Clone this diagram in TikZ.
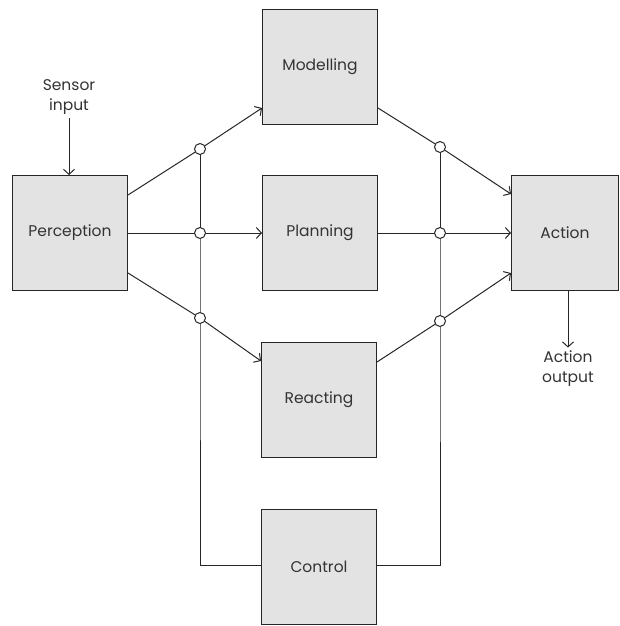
\documentclass[tikz,border=0pt]{standalone}
\usepackage{fontspec}
\setmainfont{Poppins}
\usetikzlibrary{arrows.meta, positioning}

\begin{document}
\begin{tikzpicture}[x=1pt, y=-1pt, font=\fontsize{15.5}{20}\selectfont, text=black!80,
    block/.style={draw=black!85, fill=black!11, minimum width=115pt, minimum height=115pt, inner sep=0pt, line width=1pt},
    junc/.style={circle, draw=black!85, fill=white, minimum size=11pt, inner sep=0pt, line width=1pt},
    link/.style={draw=black!85, line width=1pt},
    arr/.style={link, -{Straight Barb[length=5pt, width=11pt]}}]
    \useasboundingbox (0,0) rectangle (619,626);
    % blocks
    \node[block] (perc) at (70, 233) {Perception};
    \node[block] (mod) at (320, 67) {Modelling};
    \node[block] (plan) at (320, 233) {Planning};
    \node[block] (react) at (319, 400) {Reacting};
    \node[block] (ctrl) at (319, 567) {Control};
    \node[block, minimum width=107pt] (act) at (565, 233) {Action};
    % outside labels
    \node[align=center] (sens) at (69, 97) {Sensor\\input};
    \node[align=center] (out) at (568, 369) {Action\\output};
    % junctions
    \coordinate (jl1) at (200, 149);
    \coordinate (jl2) at (200, 233);
    \coordinate (jl3) at (200, 318);
    \coordinate (jr1) at (440, 147);
    \coordinate (jr2) at (440, 233);
    \coordinate (jr3) at (440, 321);
    % connectors
    \draw[arr] (sens.south) -- (sens.south |- perc.north);
    \draw[arr] (act.south -| out.north) -- (out.north);
    \draw[link] ([yshift=38pt]perc.east) -- (jl1);
    \draw[arr] (jl1) -- ([yshift=-41pt]mod.west);
    \draw[arr] (perc.east) -- (plan.west);
    \draw[link] ([yshift=-40pt]perc.east) -- (jl3);
    \draw[arr] (jl3) -- ([yshift=39pt]react.west);
    \draw[link] ([yshift=-41pt]mod.east) -- (jr1);
    \draw[arr] (jr1) -- ([yshift=39pt]act.west);
    \draw[arr] (plan.east) -- (act.west);
    \draw[link] ([yshift=38pt]react.east) -- (jr3);
    \draw[arr] (jr3) -- ([yshift=-40pt]act.west);
    \draw[link] (jl1) -- (jl3) |- ([yshift=2pt]ctrl.west);
    \draw[link] (jr1) -- (jr3) |- ([yshift=2pt]ctrl.east);
    % junction circles
    \foreach \j in {jl1, jl2, jl3, jr1, jr2, jr3}
        \node[junc] at (\j) {};
\end{tikzpicture}
\end{document}
